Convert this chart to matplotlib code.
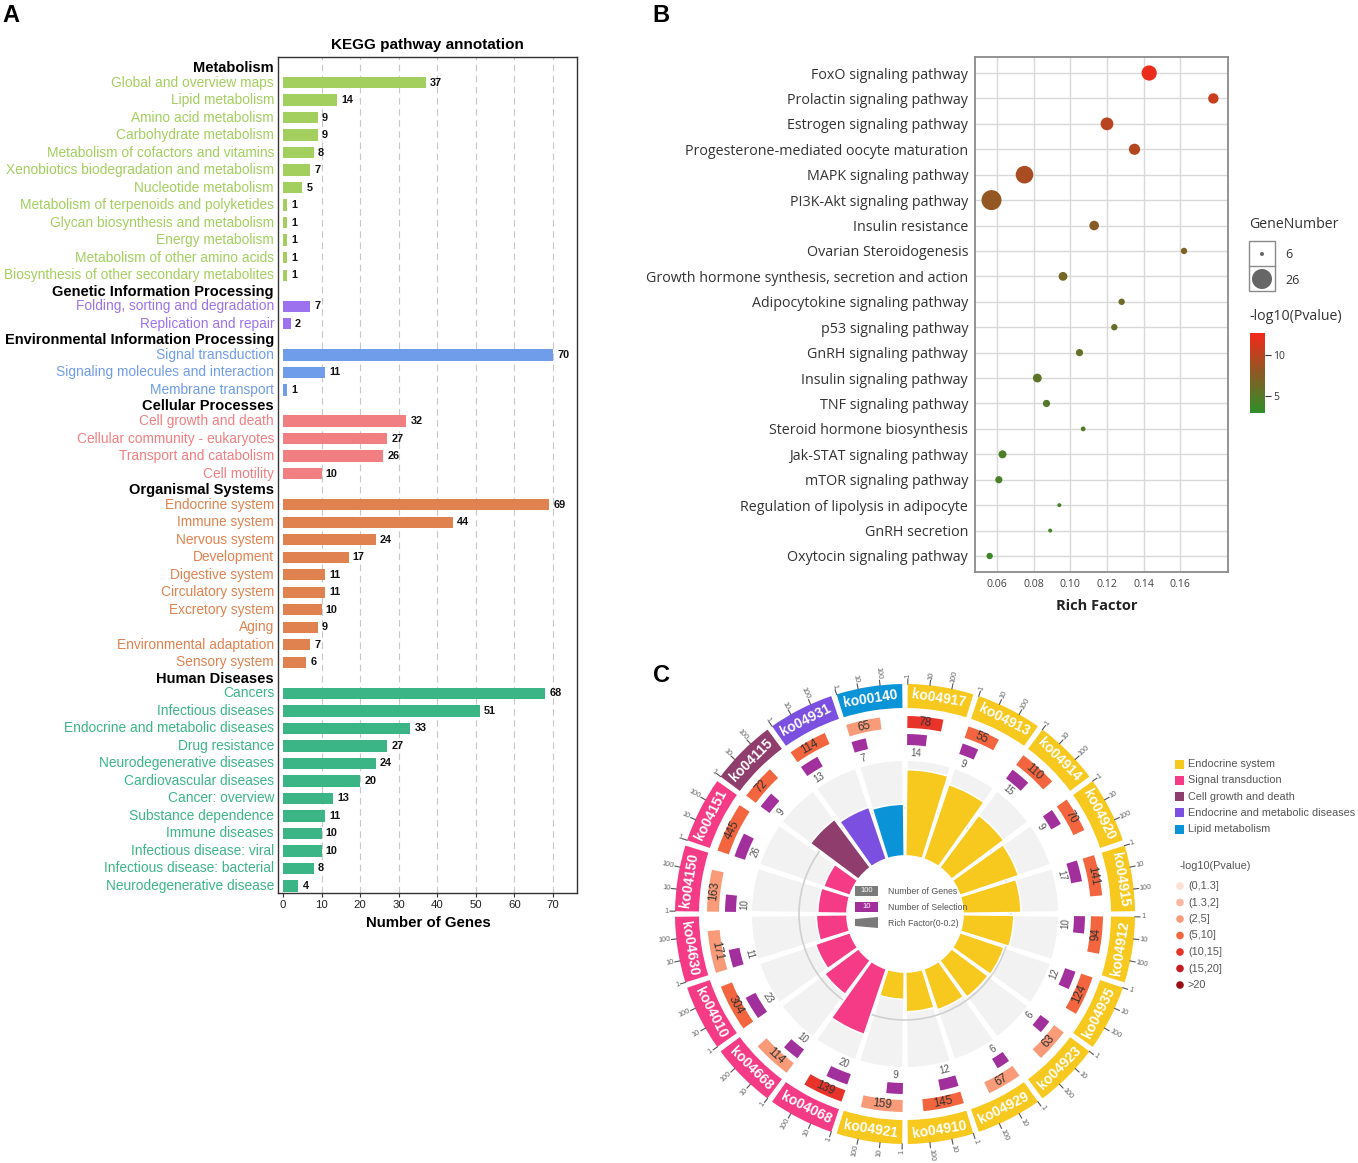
import numpy as np
import matplotlib
matplotlib.use("Agg")
import matplotlib.pyplot as plt
import matplotlib.transforms as mtransforms
from matplotlib.patches import Wedge, Rectangle, Circle, Polygon
from matplotlib.colors import LinearSegmentedColormap, Normalize
import matplotlib.colorbar as mcolorbar

W, H, DPI = 1358, 1163, 100

# ---------------- Panel A data ----------------
a_groups = ["Metabolism", "Genetic Information Processing",
            "Environmental Information Processing", "Cellular Processes",
            "Organismal Systems", "Human Diseases"]
a_colors = ["#a3cf5e", "#9d72ee", "#6f9de9", "#f17f81", "#e0824f", "#3cb586"]
metab_terms = ["Global and overview maps", "Lipid metabolism", "Amino acid metabolism",
               "Carbohydrate metabolism", "Metabolism of cofactors and vitamins",
               "Xenobiotics biodegradation and metabolism", "Nucleotide metabolism",
               "Metabolism of terpenoids and polyketides", "Glycan biosynthesis and metabolism",
               "Energy metabolism", "Metabolism of other amino acids",
               "Biosynthesis of other secondary metabolites"]
metab_vals = [37, 14, 9, 9, 8, 7, 5, 1, 1, 1, 1, 1]
genetic_terms = ["Folding, sorting and degradation", "Replication and repair"]
genetic_vals = [7, 2]
env_terms = ["Signal transduction", "Signaling molecules and interaction", "Membrane transport"]
env_vals = [70, 11, 1]
cell_terms = ["Cell growth and death", "Cellular community - eukaryotes",
              "Transport and catabolism", "Cell motility"]
cell_vals = [32, 27, 26, 10]
org_terms = ["Endocrine system", "Immune system", "Nervous system", "Development",
             "Digestive system", "Circulatory system", "Excretory system", "Aging",
             "Environmental adaptation", "Sensory system"]
org_vals = [69, 44, 24, 17, 11, 11, 10, 9, 7, 6]
hd_terms = ["Cancers", "Infectious diseases", "Endocrine and metabolic diseases",
            "Drug resistance", "Neurodegenerative diseases", "Cardiovascular diseases",
            "Cancer: overview", "Substance dependence", "Immune diseases",
            "Infectious disease: viral", "Infectious disease: bacterial",
            "Neurodegenerative disease"]
hd_vals = [68, 51, 33, 27, 24, 20, 13, 11, 10, 10, 8, 4]
a_xticks = [0, 10, 20, 30, 40, 50, 60, 70]

# ---------------- Panel B data ----------------
b_terms = ["FoxO signaling pathway", "Prolactin signaling pathway", "Estrogen signaling pathway",
           "Progesterone-mediated oocyte maturation", "MAPK signaling pathway",
           "PI3K-Akt signaling pathway", "Insulin resistance", "Ovarian Steroidogenesis",
           "Growth hormone synthesis, secretion and action", "Adipocytokine signaling pathway",
           "p53 signaling pathway", "GnRH signaling pathway", "Insulin signaling pathway",
           "TNF signaling pathway", "Steroid hormone biosynthesis", "Jak-STAT signaling pathway",
           "mTOR signaling pathway", "Regulation of lipolysis in adipocyte", "GnRH secretion",
           "Oxytocin signaling pathway"]
b_rich = [0.143, 0.178, 0.120, 0.135, 0.075, 0.057, 0.113, 0.162, 0.096, 0.128,
          0.124, 0.105, 0.082, 0.087, 0.107, 0.063, 0.061, 0.094, 0.089, 0.056]
b_genes = [20, 14, 17, 15, 23, 26, 13, 9, 12, 9, 9, 10, 12, 10, 7, 11, 10, 6, 6, 9]
b_logp = [12.2, 10.6, 9.9, 9.7, 9.2, 8.2, 7.6, 7.1, 6.6, 6.2, 6.0, 5.8, 5.3, 4.9,
          4.7, 4.5, 4.4, 4.2, 4.0, 3.7]
b_xticks = [0.06, 0.08, 0.10, 0.12, 0.14, 0.16]
b_size_legend = [6, 26]
b_cbar_ticks = [5, 10]

# ---------------- Panel C data ----------------
c_ko = ["ko04917", "ko04913", "ko04914", "ko04920", "ko04915", "ko04912", "ko04935",
        "ko04923", "ko04929", "ko04910", "ko04921", "ko04068", "ko04668", "ko04010",
        "ko04630", "ko04150", "ko04151", "ko04115", "ko04931", "ko00140"]
c_cat = [0] * 11 + [1] * 6 + [2, 3, 4]
c_genes = [78, 55, 110, 70, 141, 94, 124, 63, 67, 145, 159, 139, 114, 304, 171, 163, 445, 72, 114, 65]
c_sel = [14, 9, 15, 9, 17, 10, 12, 6, 6, 12, 9, 20, 10, 23, 11, 10, 26, 9, 13, 7]
c_rich = [0.180, 0.164, 0.136, 0.129, 0.121, 0.106, 0.097, 0.095, 0.090, 0.083,
          0.057, 0.144, 0.088, 0.076, 0.064, 0.061, 0.058, 0.125, 0.114, 0.108]
c_logp = [10.6, 7.1, 9.7, 6.2, 9.9, 5.8, 6.6, 4.2, 4.0, 5.3, 3.7, 12.2, 4.9, 9.2,
          4.5, 4.4, 8.2, 6.0, 7.6, 4.7]
c_cat_names = ["Endocrine system", "Signal transduction", "Cell growth and death",
               "Endocrine and metabolic diseases", "Lipid metabolism"]
c_cat_colors = ["#f7c81e", "#f53a86", "#8f3d6c", "#7b4fe0", "#0b93d8"]
c_pbin_edges = [1.3, 2, 5, 10, 15, 20]
c_pbin_labels = ["(0,1.3]", "(1.3,2]", "(2,5]", "(5,10]", "(10,15]", "(15,20]", ">20"]
c_pbin_colors = ["#fce0d6", "#fbb7a0", "#f99a79", "#f3653f", "#e8332b", "#c51b22", "#9a0d15"]
c_scale_labels = ["1", "10", "100"]

fig = plt.figure(figsize=(W / DPI, H / DPI), dpi=DPI)


def rect(l, t, r, b):
    return [l / W, 1 - b / H, (r - l) / W, (b - t) / H]


# overlay for free drawing in pixel coordinates (y down)
ov = fig.add_axes([0, 0, 1, 1], zorder=5)
ov.set_xlim(0, W)
ov.set_ylim(H, 0)
ov.axis("off")

FA = "Liberation Sans"

# ================= Panel A =================
axA = fig.add_axes(rect(278, 57, 577, 893))
group_terms = [metab_terms, genetic_terms, env_terms, cell_terms, org_terms, hd_terms]
group_vals = [metab_vals, genetic_vals, env_vals, cell_vals, org_vals, hd_vals]
HDR = 0.89
rows = []
y = 0.0
for gi, g in enumerate(a_groups):
    if gi > 0:
        y += HDR
    rows.append((g, None, "black", y, True))
    y += HDR
    for k, (t, v) in enumerate(zip(group_terms[gi], group_vals[gi])):
        if k > 0:
            y += 1
        rows.append((t, v, a_colors[gi], y, False))
last_y = y

lab_tr = mtransforms.offset_copy(
    mtransforms.blended_transform_factory(axA.transAxes, axA.transData),
    fig=fig, x=-4, y=0, units="dots")
for t, v, c, yy, hdr in rows:
    if hdr:
        axA.text(0, yy + 0.05, t, transform=lab_tr, ha="right", va="center",
                 fontsize=10.5, fontweight="bold", color="black", family=FA)
    else:
        axA.barh(yy, v, height=0.64, color=c, zorder=2)
        axA.text(0, yy, t, transform=lab_tr, ha="right", va="center",
                 fontsize=9.95, color=c, family=FA)
        axA.annotate(str(v), (v, yy), xytext=(3, 0), textcoords="offset points",
                     ha="left", va="center", fontsize=7.8, fontweight="bold",
                     color="#111", family=FA)
for xv in a_xticks[1:]:
    axA.axvline(xv, color="#c8c8c8", lw=0.8, ls=(0, (6, 4)), zorder=0)
axA.set_xlim(-1.3, 76.2)
axA.set_ylim(last_y + 0.4, -0.57)
axA.set_yticks([])
axA.set_xticks(a_xticks)
axA.set_xticklabels([str(v) for v in a_xticks], fontsize=8.2, family=FA, color="#222")
axA.tick_params(axis="x", length=3, width=0.8, pad=2, color="#333")
for s in axA.spines.values():
    s.set_color("#333")
    s.set_linewidth(1.0)
ov.text(427, 45, "KEGG pathway annotation", ha="center", va="center",
        fontsize=11, fontweight="bold", family=FA)
ov.text(428, 923, "Number of Genes", ha="center", va="center",
        fontsize=10.8, fontweight="bold", family=FA)

# ================= Panel B =================
FB = "Open Sans"
cmapB = LinearSegmentedColormap.from_list("gr", ["#2f8f2a", "#8b5a24", "#f5281a"])
normB = Normalize(2.9, 12.7)


def bubble_s(n):
    d = 4 + 0.8 * (n - 6)
    return (d * 72 / DPI) ** 2


axB = fig.add_axes(rect(975, 57, 1228, 572))
yb = np.arange(len(b_terms))
axB.scatter(b_rich, yb, s=[bubble_s(g) for g in b_genes], c=b_logp, cmap=cmapB,
            norm=normB, edgecolors="none", zorder=3)
axB.set_xlim(0.048, 0.186)
axB.set_ylim(len(b_terms) - 1 + 0.63, -0.63)
axB.set_yticks(yb)
axB.set_yticklabels(b_terms, fontsize=10.3, family=FB, color="#333")
axB.set_xticks(b_xticks)
axB.set_xticklabels(["%.2f" % v for v in b_xticks], fontsize=7.6, family=FB, color="#444")
axB.tick_params(axis="both", length=0, pad=5)
axB.grid(True, color="#d9d9d9", lw=1.0)
axB.set_axisbelow(True)
for s in axB.spines.values():
    s.set_color("#8a8a8a")
    s.set_linewidth(1.3)
ov.text(1097, 606, "Rich Factor", ha="center", va="center", fontsize=10.5,
        fontweight="bold", family=FB, color="#222")

# size legend
ov.text(1249, 225, "GeneNumber", ha="left", va="center", fontsize=10.2, family=FB, color="#333")
ov.add_patch(Rectangle((1249, 241), 26, 50, facecolor="white", edgecolor="#8a8a8a", lw=1.0))
ov.plot([1249, 1275], [266, 266], color="#8a8a8a", lw=1.0)
for n, yy in zip(b_size_legend, [254, 279]):
    ov.scatter([1262], [yy], s=bubble_s(n), color="#666666", edgecolors="none", zorder=6)
    ov.text(1285, yy + 1, str(n), ha="left", va="center", fontsize=9, family=FB, color="#333")
ov.text(1249, 317, "-log10(Pvalue)", ha="left", va="center", fontsize=10.2, family=FB, color="#333")
cax = fig.add_axes(rect(1250, 333, 1265, 413))
cb = mcolorbar.ColorbarBase(cax, cmap=cmapB, norm=normB, orientation="vertical")
cb.outline.set_visible(False)
cb.set_ticks(b_cbar_ticks)
cb.ax.tick_params(labelsize=7.5, length=4, width=0.8, color="#333", pad=2)
for lab in cb.ax.get_yticklabels():
    lab.set_family(FB)
    lab.set_color("#333")

# ================= Panel C =================
cx, cy = 905, 914
nC = len(c_ko)
step = 360.0 / nC
gap = 1.4


def pol(r, th):
    return cx + r * np.sin(np.radians(th)), cy - r * np.cos(np.radians(th))


def tang_rot(th):
    th = th % 360
    return -th if (th <= 90 or th >= 270) else 180 - th


def rad_rot(th):
    th = th % 360
    return 90 - th if th <= 180 else 270 - th


R_IN, R_BG = 58, 154
pcol = [c_pbin_colors[np.digitize(v, c_pbin_edges, right=True)] for v in c_logp]

for i in range(nC):
    a0 = i * step + gap / 2
    a1 = (i + 1) * step - gap / 2
    span = a1 - a0
    mid = (a0 + a1) / 2
    col = c_cat_colors[c_cat[i]]
    # background and rich factor bar
    ov.add_patch(Wedge((cx, cy), R_BG, a0 - 90, a1 - 90, width=R_BG - R_IN,
                       facecolor="#f2f2f2", edgecolor="white", lw=1.4, zorder=1))
    rl = c_rich[i] / 0.2 * (R_BG - R_IN)
    ov.add_patch(Wedge((cx, cy), R_IN + rl, a0 - 90, a1 - 90, width=rl,
                       facecolor=col, edgecolor="white", lw=1.2, zorder=3))
    # outer label ring
    ov.add_patch(Wedge((cx, cy), 230, a0 - 90, a1 - 90, width=24, facecolor=col,
                       edgecolor="none", zorder=3))
    x, yv = pol(218, mid)
    ov.text(x, yv, c_ko[i], rotation=tang_rot(mid), ha="center", va="center",
            rotation_mode="anchor", color="white", fontweight="bold", fontsize=10,
            family=FA, zorder=4)
    # scale ticks
    for k, lab in enumerate(c_scale_labels):
        th = a0 + k / 3 * span
        x0, y0 = pol(230, th)
        x1, y1 = pol(235, th)
        ov.plot([x0, x1], [y0, y1], color="#555", lw=0.8, zorder=3)
        xt, yt = pol(236, th)
        rr = rad_rot(th)
        ha = "left" if (th % 360) <= 180 else "right"
        ov.text(xt, yt, lab, rotation=rr, ha=ha, va="center", rotation_mode="anchor",
                fontsize=5.3, color="#666", family=FA, zorder=4)
    # number of genes bar
    e = a0 + np.log10(c_genes[i]) / 3 * span
    ov.add_patch(Wedge((cx, cy), 198, a0 - 90, e - 90, width=12, facecolor=pcol[i],
                       edgecolor="none", zorder=3))
    x, yv = pol(192, (a0 + e) / 2)
    ov.text(x, yv, str(c_genes[i]), rotation=tang_rot((a0 + e) / 2), ha="center",
            va="center", rotation_mode="anchor", fontsize=8.3, color="#333",
            family=FA, zorder=4)
    # number of selection bar
    e2 = a0 + np.log10(c_sel[i]) / 3 * span
    ov.add_patch(Wedge((cx, cy), 180, a0 - 90, e2 - 90, width=11, facecolor="#a12f9c",
                       edgecolor="none", zorder=3))
    x, yv = pol(161, (a0 + e2) / 2)
    ov.text(x, yv, str(c_sel[i]), rotation=tang_rot((a0 + e2) / 2), ha="center",
            va="center", rotation_mode="anchor", fontsize=7, color="#555",
            family=FA, zorder=4)

ov.add_patch(Circle((cx, cy), R_IN + 0.1 / 0.2 * (R_BG - R_IN), fill=False,
                    edgecolor="#d0d0d0", lw=1.2, zorder=2))

# center legend
ov.add_patch(Rectangle((855, 886), 23, 10, facecolor="#7a7a7a", edgecolor="none", zorder=6))
ov.text(866.5, 891, "100", ha="center", va="center", fontsize=5.5, color="white", family=FA, zorder=7)
ov.text(888, 891, "Number of Genes", ha="left", va="center", fontsize=6.3, color="#555", family=FA, zorder=7)
ov.add_patch(Rectangle((855, 902), 23, 10, facecolor="#a12f9c", edgecolor="none", zorder=6))
ov.text(866.5, 907, "10", ha="center", va="center", fontsize=5.5, color="white", family=FA, zorder=7)
ov.text(888, 907, "Number of Selection", ha="left", va="center", fontsize=6.3, color="#555", family=FA, zorder=7)
ov.add_patch(Polygon([(855, 919), (878, 917), (878, 928), (855, 926)], closed=True,
                     facecolor="#7a7a7a", edgecolor="none", zorder=6))
ov.text(888, 923, "Rich Factor(0-0.2)", ha="left", va="center", fontsize=6.3, color="#555", family=FA, zorder=7)

# right legends
for k, (nm, colr) in enumerate(zip(c_cat_names, c_cat_colors)):
    yy = 764 + k * 16.3
    ov.add_patch(Rectangle((1175, yy - 4.5), 9, 9, facecolor=colr, edgecolor="none"))
    ov.text(1188, yy, nm, ha="left", va="center", fontsize=7.8, color="#555", family=FA)
ov.text(1180, 866, "-log10(Pvalue)", ha="left", va="center", fontsize=7.8, color="#555", family=FA)
for k, (lb, colr) in enumerate(zip(c_pbin_labels, c_pbin_colors)):
    yy = 886 + k * 16.5
    ov.scatter([1180], [yy], s=30, color=colr, edgecolors="none")
    ov.text(1188, yy, lb, ha="left", va="center", fontsize=7.8, color="#555", family=FA)

# panel letters
for lt, (x, yv) in zip(["A", "B", "C"], [(11, 15), (661, 15), (662, 676)]):
    ov.text(x, yv, lt, ha="center", va="center", fontsize=17, fontweight="bold", family=FA)

fig.savefig("out.png", dpi=DPI)
